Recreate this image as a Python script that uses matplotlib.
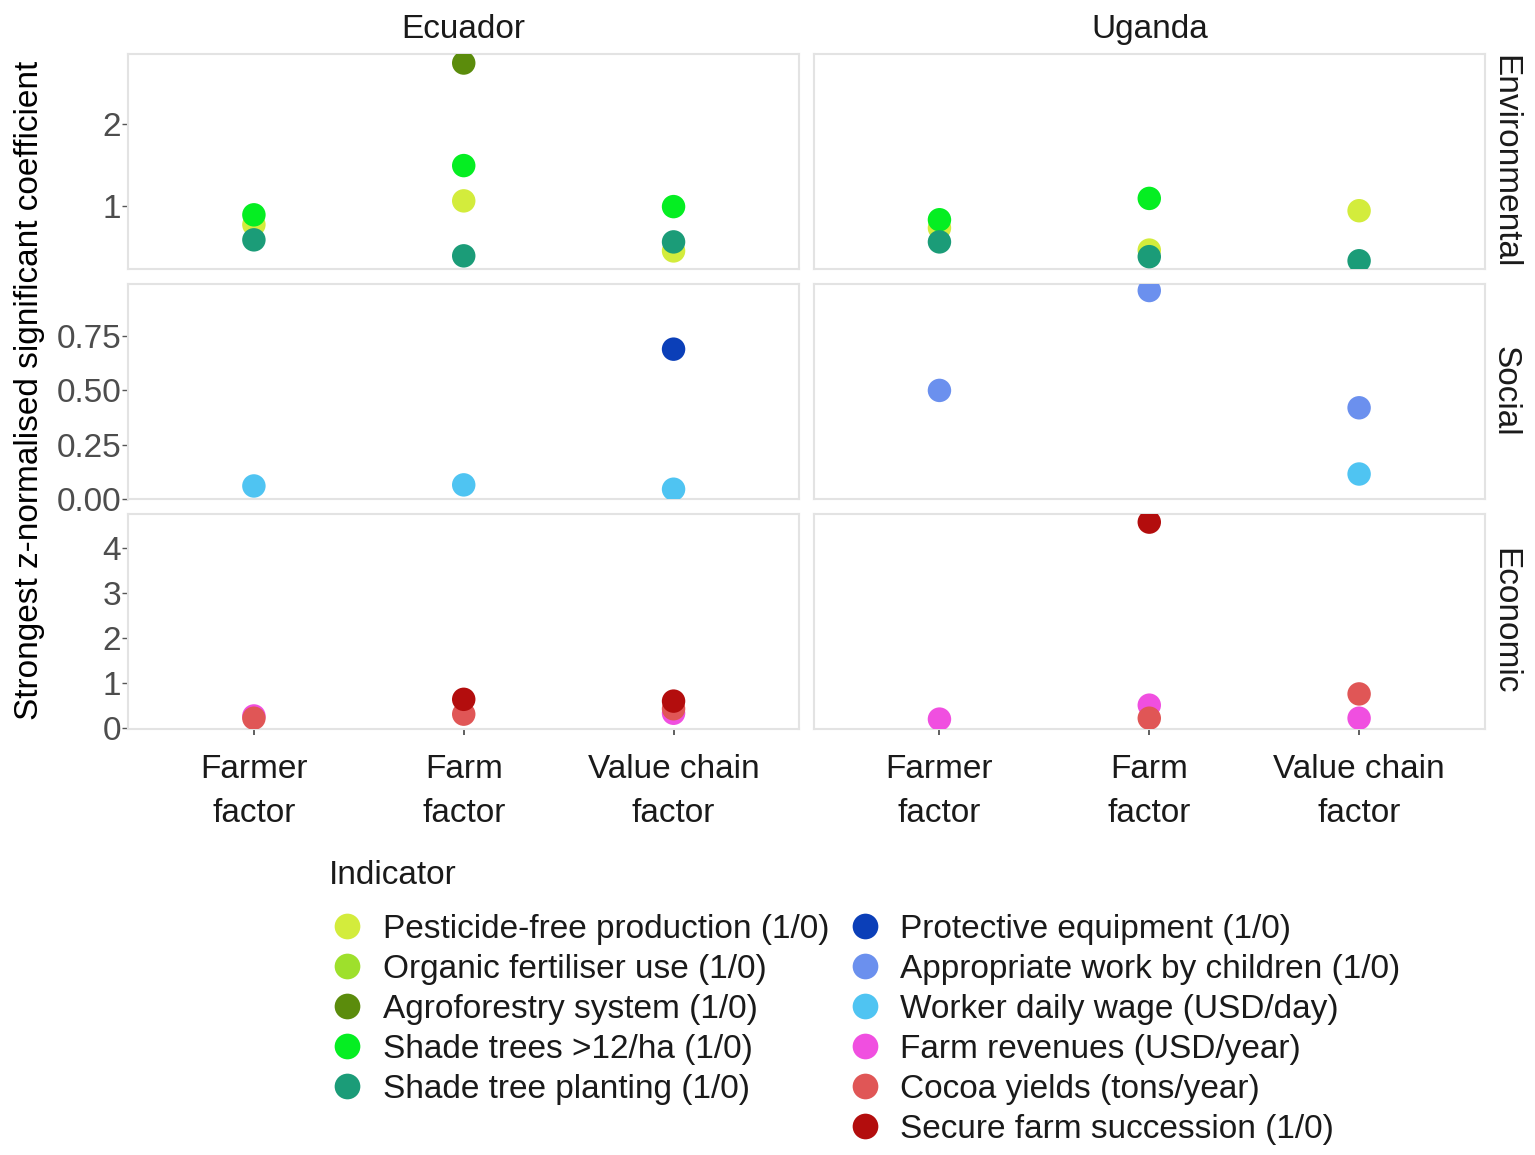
import numpy as np
import matplotlib
matplotlib.use("Agg")
import matplotlib.pyplot as plt
from matplotlib.lines import Line2D

plt.rcParams['font.family'] = ['Liberation Sans', 'DejaVu Sans']

countries = ["Ecuador", "Uganda"]
dimensions = ["Environmental", "Social", "Economic"]
factors = ["Farmer\nfactor", "Farm\nfactor", "Value chain\nfactor"]

indicators = [
    "Pesticide-free production (1/0)",
    "Organic fertiliser use (1/0)",
    "Agroforestry system (1/0)",
    "Shade trees >12/ha (1/0)",
    "Shade tree planting (1/0)",
    "Protective equipment (1/0)",
    "Appropriate work by children (1/0)",
    "Worker daily wage (USD/day)",
    "Farm revenues (USD/year)",
    "Cocoa yields (tons/year)",
    "Secure farm succession (1/0)",
]
colors = ["#d3ec3c", "#9ee02c", "#5b8c0c", "#05ee22", "#1b9c78",
          "#0b3fb8", "#6b90ee", "#4fc4f2", "#f04fe0", "#e05656", "#b30d0d"]
indicator_dim = [0, 0, 0, 0, 0, 1, 1, 1, 2, 2, 2]

nan = np.nan
# values per factor: farmer, farm, value chain
ecuador = [
    [0.77, 1.06, 0.45],   # pesticide-free
    [nan, nan, nan],      # organic fertiliser
    [nan, 2.74, nan],     # agroforestry
    [0.89, 1.49, 0.99],   # shade trees >12/ha
    [0.585, 0.39, 0.56],  # shade tree planting
    [nan, nan, 0.69],     # protective equipment
    [nan, nan, nan],      # appropriate work by children
    [0.06, 0.065, 0.045], # worker daily wage
    [0.27, nan, 0.33],    # farm revenues
    [0.22, 0.31, 0.43],   # cocoa yields
    [nan, 0.64, 0.60],    # secure farm succession
]
uganda = [
    [0.73, 0.46, 0.94],
    [nan, nan, nan],
    [nan, nan, nan],
    [0.83, 1.09, nan],
    [0.56, 0.38, 0.33],
    [nan, nan, nan],
    [0.50, 0.96, 0.42],
    [nan, nan, 0.115],
    [0.20, 0.51, 0.22],
    [nan, 0.22, 0.76],
    [nan, 4.58, nan],
]
country_values = [ecuador, uganda]

row_limits = [(0.23, 2.85), (0.0, 0.99), (-0.02, 4.76)]
row_ticks = [[1, 2], [0.0, 0.25, 0.5, 0.75], [0, 1, 2, 3, 4]]
row_ticklabels = [["1", "2"], ["0.00", "0.25", "0.50", "0.75"], ["0", "1", "2", "3", "4"]]

W, H = 1535, 1155
fig, axes = plt.subplots(3, 2, figsize=(W / 100, H / 100), dpi=100)
fig.subplots_adjust(left=128 / W, right=1485 / W, top=1 - 54 / H, bottom=1 - 729 / H,
                    wspace=0.021, hspace=0.07)

fs = 24
for r in range(3):
    for c in range(2):
        ax = axes[r, c]
        vals = country_values[c]
        for i in range(len(indicators)):
            if indicator_dim[i] != r:
                continue
            ax.scatter(range(3), vals[i], s=285, color=colors[i], edgecolors='none', zorder=3)
        ax.set_xlim(-0.6, 2.6)
        ax.set_ylim(*row_limits[r])
        for sp in ax.spines.values():
            sp.set_color("#e3e3e3")
            sp.set_linewidth(1.5)
        ax.set_yticks(row_ticks[r])
        if c == 0:
            ax.set_yticklabels(row_ticklabels[r])
            ax.tick_params(axis='y', length=4, width=1, color="#555555", pad=1,
                           labelsize=fs, labelcolor="#4d4d4d")
        else:
            ax.tick_params(axis='y', length=0, labelleft=False)
        ax.set_xticks(range(3))
        if r == 2:
            ax.set_xticklabels(factors, linespacing=1.55)
            ax.tick_params(axis='x', length=4, width=1.2, color="#444444", pad=14,
                           labelsize=fs, labelcolor="#1a1a1a")
        else:
            ax.tick_params(axis='x', length=0, labelbottom=False)

# strip labels
for c, name in enumerate(countries):
    ax = axes[0, c]
    ax.annotate(name, xy=(0.5, 1), xycoords='axes fraction', xytext=(0, 17.5),
                textcoords='offset points', ha='center', va='center',
                fontsize=fs, color="#1a1a1a")
for r, name in enumerate(dimensions):
    ax = axes[r, 1]
    ax.annotate(name, xy=(1, 0.5), xycoords='axes fraction', xytext=(14.5, 0),
                textcoords='offset points', ha='center', va='center', rotation=-90,
                fontsize=fs, color="#1a1a1a")

fig.text(30 / W, 1 - 390 / H, "Strongest z-normalised significant coefficient",
         rotation=90, ha='center', va='center', fontsize=fs, color="black")

handles = []
labels = []
for i in range(len(indicators)):
    handles.append(Line2D([], [], marker='o', linestyle='none', markersize=18.5,
                          markerfacecolor=colors[i], markeredgecolor='none'))
    labels.append(indicators[i])
    if i == 4:
        handles.append(Line2D([], [], linestyle='none'))
        labels.append("")

fig.text(329 / W, 1 - 875 / H, "Indicator", ha='left', va='center',
         fontsize=fs, color="#1a1a1a")
leg = fig.legend(handles, labels, ncol=2, loc='upper left',
                 bbox_to_anchor=(327 / W, 1 - 914 / H), frameon=False, fontsize=fs,
                 handlelength=1.2, handletextpad=0.48,
                 columnspacing=0.45, labelspacing=0.27, borderpad=0, borderaxespad=0)
for t in leg.get_texts():
    t.set_color("#1a1a1a")

fig.savefig("out.png", dpi=100, facecolor="white")
